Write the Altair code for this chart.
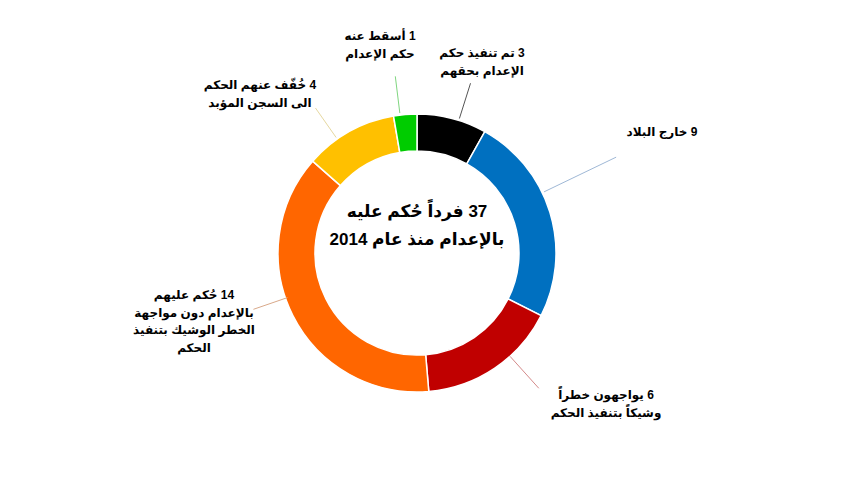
import math
import altair as alt
import pandas as pd

# ---------------- data ----------------
categories = [
    "تم تنفيذ حكم الإعدام بحقهم",
    "خارج البلاد",
    "يواجهون خطراً وشيكاً بتنفيذ الحكم",
    "حكم عليهم بالإعدام دون مواجهة الخطر الوشيك بتنفيذ الحكم",
    "خفف عنهم الحكم الى السجن المؤبد",
    "أسقط عنه حكم الإعدام",
]
values = [3, 9, 6, 14, 4, 1]
label_lines = [
    ["تم تنفيذ حكم", "الإعدام بحقهم"],
    ["خارج البلاد"],
    ["يواجهون خطراً", "وشيكاً بتنفيذ الحكم"],
    ["حُكم عليهم", "بالإعدام دون مواجهة", "الخطر الوشيك بتنفيذ", "الحكم"],
    ["خُفّف عنهم الحكم", "الى السجن المؤبد"],
    ["أسقط عنه", "حكم الإعدام"],
]
center_words = ["فرداً حُكم عليه", "بالإعدام منذ عام 2014"]

# ---------------- styles / layout ----------------
slice_colors = ["#000000", "#0070C0", "#C00000", "#FF6600", "#FFC000", "#00CC00"]
leader_colors = ["#555555", "#9FB8D6", "#D48A8A", "#D9A98A", "#E6D8A0", "#7FD67F"]
W, H = 835, 475
CX, CY = 409, 245
R_OUT, R_IN = 139, 102
leader_angle = [17.5, 64.3, 138, 251, 325, 353]
leader_r = [(141, 178), (141, 221), (139, 182), (137, 173), (141, 177), (141, 178)]
# position of the first line of each label
label_pos = [(474, 45), (654, 124), (598, 387), (186, 287), (252, 77), (372, 28)]
FONT = "Liberation Sans, DejaVu Sans, sans-serif"
RLM = "\u200F"  # right-to-left mark: makes each line read right to left


def rtl(lines):
    return "\n".join(RLM + ln for ln in lines)


# ---------------- tables ----------------
df_arc = pd.DataFrame({
    "cat": categories,
    "value": values,
    "order": list(range(len(values))),
    "color": slice_colors,
})

rows = []
for i in range(len(values)):
    a = math.radians(leader_angle[i])
    r0, r1 = leader_r[i]
    rows.append({
        "x": CX + r0 * math.sin(a), "y": CY - r0 * math.cos(a),
        "x2": CX + r1 * math.sin(a), "y2": CY - r1 * math.cos(a),
        "color": leader_colors[i],
    })
df_lead = pd.DataFrame(rows)

lab_rows = []
for i, v in enumerate(values):
    lines = list(label_lines[i])
    lines[0] = f"{v} {lines[0]}"
    lab_rows.append({"x": label_pos[i][0], "y": label_pos[i][1], "text": rtl(lines)})
df_lab = pd.DataFrame(lab_rows)

total = sum(values)
df_center = pd.DataFrame([{
    "x": CX, "y": 204,
    "text": rtl([f"{total} {center_words[0]}", center_words[1]]),
}])

xs = alt.Scale(domain=[0, W], range=[0, W])
ys = alt.Scale(domain=[0, H], range=[0, H])

arc = alt.Chart(df_arc).mark_arc(
    outerRadius=R_OUT, innerRadius=R_IN, stroke="white", strokeWidth=1.5
).encode(
    theta=alt.Theta("value:Q", stack=True),
    order=alt.Order("order:Q"),
    color=alt.Color("color:N", scale=None),
    x=alt.value(CX),
    y=alt.value(CY),
)

leads = alt.Chart(df_lead).mark_rule(strokeWidth=1).encode(
    x=alt.X("x:Q", scale=xs, axis=None),
    y=alt.Y("y:Q", scale=ys, axis=None),
    x2="x2:Q",
    y2="y2:Q",
    color=alt.Color("color:N", scale=None),
)

labels = alt.Chart(df_lab).mark_text(
    font=FONT, fontSize=12, fontWeight="bold", color="#000000",
    lineBreak="\n", lineHeight=17.5, align="center", baseline="middle",
).encode(
    x=alt.X("x:Q", scale=xs, axis=None),
    y=alt.Y("y:Q", scale=ys, axis=None),
    text="text:N",
)

center = alt.Chart(df_center).mark_text(
    font=FONT, fontSize=17, fontWeight="bold", color="#000000",
    lineBreak="\n", lineHeight=28, align="center", baseline="middle",
).encode(
    x=alt.X("x:Q", scale=xs, axis=None),
    y=alt.Y("y:Q", scale=ys, axis=None),
    text="text:N",
)

chart = alt.layer(arc, leads, labels, center).properties(
    width=W, height=H, padding=0, autosize="none", background="white"
).configure_view(stroke=None)

chart.save("out.html", embed_options={"renderer": "svg", "actions": False})
